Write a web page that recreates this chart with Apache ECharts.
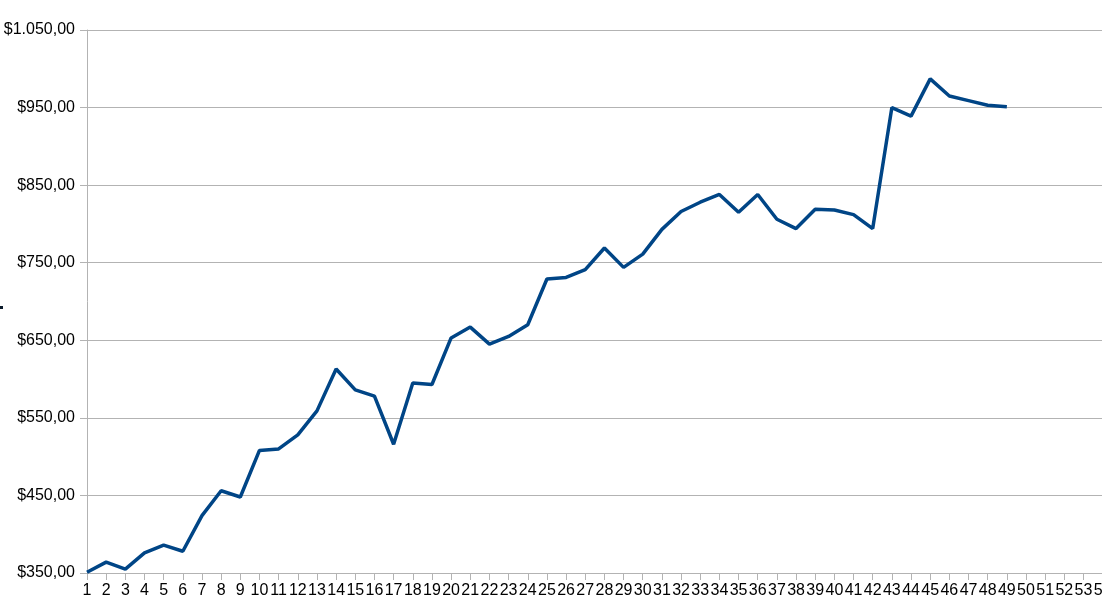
<!DOCTYPE html>
<html>
<head>
<meta charset="utf-8">
<script src="https://cdn.jsdelivr.net/npm/echarts@6/dist/echarts.min.js"></script>
<style>
html,body{margin:0;padding:0;background:#fff;}
#chart{width:1102px;height:611px;}
</style>
</head>
<body>
<div id="chart"></div>
<script>
// Categories (axis runs past the visible area, as in the reference)
const categories = [];
for (let i = 1; i <= 56; i++) categories.push(String(i));

// Series values
const values = [
  351, 364, 355, 376, 386, 378, 424, 456, 448, 508,
  510, 528, 559, 613, 586, 578, 516, 595, 593, 653,
  667, 645, 655, 670, 729, 731, 741, 769, 744, 761,
  793, 816, 828, 838, 815, 838, 806, 794, 819, 818,
  812, 794, 950, 939, 987, 965, 959, 953, 951
];

// Y tick values
const yTicks = [350, 450, 550, 650, 750, 850, 950, 1050];

function money(v) {
  const s = String(Math.round(v)).replace(/\B(?=(\d{3})+(?!\d))/g, '.');
  return '$' + s + ',00';
}

const chart = echarts.init(document.getElementById('chart'), null, {renderer: 'canvas'});
chart.setOption({
  animation: false,
  backgroundColor: '#ffffff',
  textStyle: {fontFamily: 'Liberation Sans, Arial, sans-serif'},
  grid: {left: 87, top: 30, bottom: 38, right: -39, containLabel: false, outerBoundsMode: 'none'},
  graphic: [{
    type: 'rect', left: 0, top: 306, shape: {width: 3, height: 3}, style: {fill: '#0a1a2a'}, silent: true
  }],
  xAxis: {
    type: 'category',
    data: categories,
    boundaryGap: false,
    axisLine: {show: true, lineStyle: {color: '#b3b3b3', width: 1}},
    axisTick: {show: true, length: 7, alignWithLabel: true, interval: 0, lineStyle: {color: '#b3b3b3'}},
    axisLabel: {show: true, interval: 0, hideOverlap: false, margin: 10, color: '#000', fontSize: 16, fontFamily: 'Liberation Sans'},
    splitLine: {show: false}
  },
  yAxis: {
    type: 'value',
    min: 350,
    max: 1050,
    axisLine: {show: true, lineStyle: {color: '#b3b3b3', width: 1}},
    axisTick: {show: true, length: 7, customValues: yTicks, lineStyle: {color: '#b3b3b3'}},
    axisLabel: {show: true, customValues: yTicks, margin: 12, color: '#000', fontSize: 16, fontFamily: 'Liberation Sans', formatter: money},
    splitLine: {show: true, lineStyle: {color: '#b3b3b3', width: 1}}
  },
  series: [{
    type: 'line',
    data: values,
    showSymbol: false,
    symbol: 'none',
    lineStyle: {color: '#004586', width: 3.5},
    itemStyle: {color: '#004586'}
  }]
});
</script>
</body>
</html>
